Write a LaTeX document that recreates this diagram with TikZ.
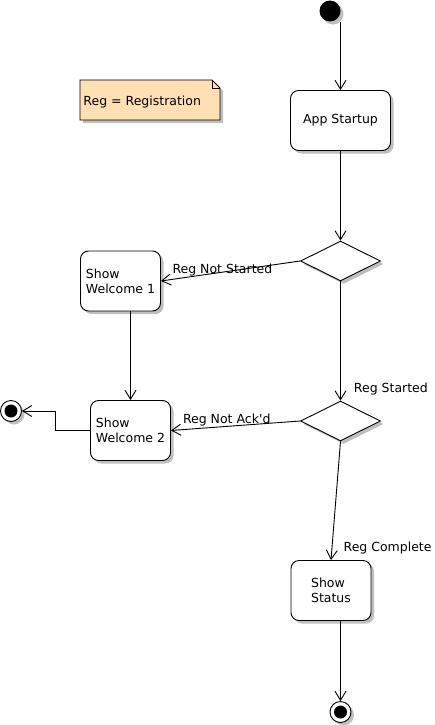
\documentclass[tikz,border=0pt]{standalone}
\usepackage{fontspec}
\setmainfont{DejaVu Sans}
\usetikzlibrary{arrows.meta,shapes.geometric,shadows}
\definecolor{notefill}{RGB}{255,224,178}

\begin{document}
\begin{tikzpicture}[x=1pt,y=-1pt,font=\fontsize{12.5}{15}\selectfont,line width=0.9pt,
  shadowed/.style={drop shadow={shadow xshift=3pt,shadow yshift=-3pt,fill=black!25,opacity=1}},
  act/.style={draw,rounded corners=8pt,fill=white,minimum width=80pt,minimum height=60pt,align=left,shadowed},
  choice/.style={draw,diamond,aspect=2,fill=white,minimum width=80pt,minimum height=40pt,inner sep=0pt,shadowed},
  startdot/.style={circle,fill=black,minimum size=21pt,inner sep=0pt,shadowed},
  enddot/.style={circle,draw,fill=white,minimum size=21pt,inner sep=0pt,shadowed,
    path picture={\fill[black] (path picture bounding box.center) circle (6.5pt);}},
  flow/.style={-{Straight Barb[length=9pt,width=11pt]}},
  guard/.style={anchor=base west,inner sep=0pt}]
\useasboundingbox (0,0) rectangle (435,725);
\draw[fill=notefill,shadowed] (80,80) -- (212,80) -- (220,88) -- (220,120) -- (80,120) -- cycle;
\draw (212,80) |- (220,88);
\node[anchor=base west,inner sep=0pt] (note) at (83,105) {Reg = Registration};
\node[startdot] (start) at (330,11) {};
\node[act,minimum width=100pt,align=center] (app) at (340.5,120.5) {App Startup};
\node[choice] (regq) at (340.5,261) {};
\node[act] (welcome1) at (120.5,281) {Show\\Welcome 1};
\node[choice] (ackq) at (340.5,421) {};
\node[act] (welcome2) at (130.5,430.5) {Show\\Welcome 2};
\node[act] (status) at (331,590.5) {Show\\Status};
\node[enddot] (end1) at (11,411) {};
\node[enddot] (end2) at (340.5,712) {};
\draw[flow] (start.south -| app.north) -- (app);
\draw[flow] (app) -- (regq);
\draw[flow] (regq.west) -- node[guard,pos=0.92,yshift=6pt] {Reg Not Started} (welcome1.east);
\draw[flow] (regq.south) -- node[guard,pos=0.93,xshift=13pt] {Reg Started} (ackq.north);
\draw[flow] (ackq.west) -- node[guard,pos=0.91,yshift=6pt] {Reg Not Ack\textquotesingle d} (welcome2.east);
\draw[flow] (ackq.south) -- node[guard,pos=0.93,xshift=11.5pt] {Reg Complete} (status.north);
\draw[flow] (welcome1.south -| welcome2.north) -- (welcome2);
\draw[flow] (welcome2.west) -- ++(-35,0) |- (end1);
\draw[flow] (status.south -| end2) -- (end2);
\end{tikzpicture}
\end{document}
